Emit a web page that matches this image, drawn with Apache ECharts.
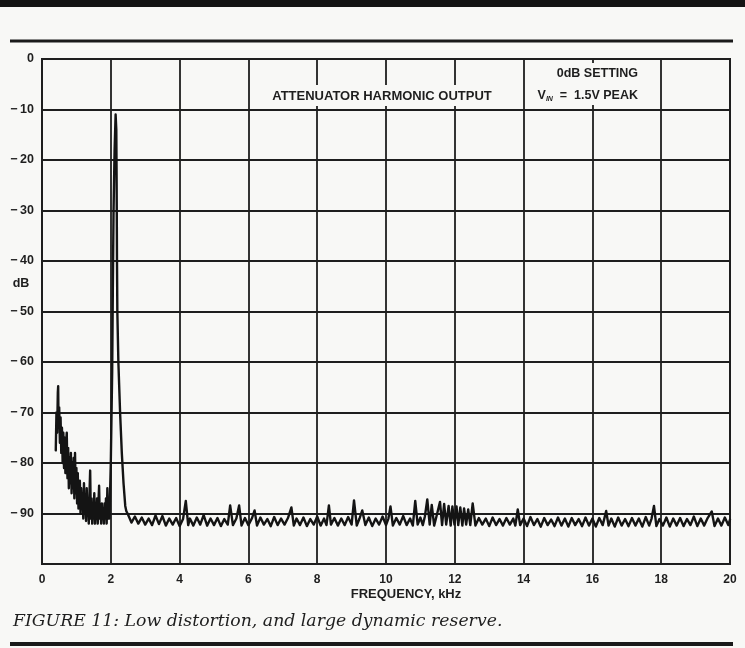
<!DOCTYPE html>
<html>
<head>
<meta charset="utf-8">
<script src="https://cdn.jsdelivr.net/npm/echarts@6/dist/echarts.min.js"></script>
<style>
html,body{margin:0;padding:0;background:#f8f8f6;}
#c{width:745px;height:648px;}
</style>
</head>
<body>
<div id="c"></div>
<script>
// ---- data (frequency kHz, level dB) ----
var xTicks = [0, 2, 4, 6, 8, 10, 12, 14, 16, 18, 20];
var yTickLabels = {'0':'0','-10':'\u2212\u200910','-20':'\u2212\u200920','-30':'\u2212\u200930','-40':'\u2212\u200940',
  '-50':'\u2212\u200950','-60':'\u2212\u200960','-70':'\u2212\u200970','-80':'\u2212\u200980','-90':'\u2212\u200990','-100':''};

var lowBand = [
 [0.40,-77.5],[0.42,-70],[0.44,-74],[0.46,-66],[0.47,-64.8],[0.48,-72],[0.50,-69],[0.52,-76],[0.54,-71],
 [0.56,-78],[0.58,-73],[0.60,-80],[0.62,-74],[0.64,-81],[0.66,-75],[0.68,-82],[0.70,-76],[0.72,-74],
 [0.74,-83],[0.76,-77],[0.78,-85],[0.80,-79],[0.82,-84],[0.84,-78],[0.86,-86],[0.88,-80],[0.90,-85],
 [0.92,-79],[0.94,-87],[0.96,-78],[0.98,-86],[1.00,-81],[1.02,-88],[1.04,-82],[1.06,-89],[1.08,-84],
 [1.10,-83.5],[1.12,-90],[1.14,-85],[1.16,-89],[1.18,-86],[1.20,-91],[1.22,-84],[1.24,-90],[1.26,-87],
 [1.28,-91.5],[1.30,-85],[1.32,-90],[1.34,-88],[1.36,-92],[1.38,-86],[1.40,-81.5],[1.42,-91],[1.44,-87],
 [1.46,-92],[1.48,-88],[1.50,-91],[1.52,-86],[1.54,-92],[1.56,-89],[1.58,-91],[1.60,-87],[1.62,-92],
 [1.64,-88],[1.66,-84.5],[1.68,-91],[1.70,-89],[1.72,-92],[1.74,-88],[1.76,-91],[1.78,-89],[1.80,-92],
 [1.82,-88],[1.84,-91],[1.86,-87],[1.88,-92],[1.90,-85],[1.92,-91],[1.94,-89],[1.96,-91]
];

var mainPeak = [
 [2.00,-80],[2.04,-62],[2.06,-45],[2.08,-30],[2.11,-18],[2.14,-11],[2.16,-14],[2.17,-25],[2.18,-40],
 [2.19,-50],[2.22,-60],[2.27,-70],[2.32,-78],[2.37,-84],[2.42,-88.5],[2.45,-89.5]
];

var noiseFloor = [
 [2.5,-90.2],[2.6,-91.8],[2.7,-90.6],[2.8,-92.0],[2.9,-90.8],[3.0,-92.2],[3.1,-91.0],[3.2,-92.3],[3.3,-90.4],
 [3.4,-92.1],[3.5,-90.5],[3.6,-92.4],[3.7,-91.0],[3.8,-92.2],[3.9,-90.9],[4.0,-92.5],[4.1,-91.1],[4.18,-87.5],
 [4.25,-92.3],[4.3,-91.0],[4.4,-92.4],[4.5,-90.8],[4.6,-92.2],[4.7,-90.3],[4.8,-92.4],[4.9,-91.0],[5.0,-92.3],
 [5.1,-90.9],[5.2,-92.5],[5.3,-91.1],[5.4,-92.2],[5.47,-88.4],[5.55,-92.3],[5.65,-91.0],[5.73,-88.4],[5.8,-92.4],
 [5.9,-90.9],[6.0,-92.3],[6.1,-91.0],[6.18,-89.4],[6.25,-92.4],[6.35,-90.8],[6.45,-92.2],[6.55,-91.1],[6.65,-92.5],
 [6.75,-90.7],[6.85,-92.3],[6.95,-91.0],[7.05,-92.2],[7.15,-90.9],[7.25,-88.8],[7.32,-92.4],[7.4,-91.0],[7.5,-92.3],
 [7.6,-90.8],[7.7,-92.5],[7.8,-91.1],[7.9,-92.2],[8.0,-90.6],[8.1,-92.4],[8.2,-91.0],[8.27,-92.3],[8.34,-88.4],
 [8.4,-92.2],[8.5,-90.9],[8.6,-92.4],[8.7,-91.0],[8.8,-92.3],[8.9,-90.7],[9.0,-92.2],[9.07,-87.4],[9.15,-92.4],
 [9.23,-91.0],[9.31,-89.4],[9.4,-92.3],[9.5,-90.8],[9.6,-92.5],[9.7,-91.0],[9.8,-92.2],[9.9,-90.6],[10.0,-92.3],
 [10.07,-91.0],[10.13,-88.6],[10.2,-92.4],[10.3,-90.9],[10.4,-92.2],[10.5,-90.5],[10.6,-92.3],[10.7,-91.0],
 [10.78,-92.4],[10.85,-87.5],[10.92,-92.2],[11.0,-90.8],[11.07,-92.3],[11.13,-90.6],[11.20,-87.2],[11.27,-92.2],
 [11.33,-88.3],[11.4,-92.4],[11.47,-90.5],[11.57,-87.7],[11.63,-92.3],[11.69,-88.1],[11.75,-92.2],[11.82,-88.5],
 [11.88,-92.4],[11.93,-88.6],[11.99,-92.2],[12.05,-88.6],[12.1,-92.3],[12.16,-88.8],[12.22,-92.4],[12.27,-89.0],
 [12.33,-92.2],[12.39,-89.2],[12.45,-92.3],[12.52,-88.0],[12.6,-92.4],[12.7,-90.9],[12.8,-92.2],[12.9,-91.0],
 [13.0,-92.5],[13.1,-90.8],[13.2,-92.3],[13.3,-91.1],[13.4,-92.4],[13.5,-90.9],[13.6,-92.2],[13.7,-91.0],
 [13.76,-92.4],[13.83,-89.2],[13.9,-92.3],[14.0,-91.0],[14.1,-92.5],[14.2,-90.7],[14.3,-92.3],[14.4,-91.1],
 [14.5,-92.6],[14.6,-90.9],[14.7,-92.3],[14.8,-91.2],[14.9,-92.5],[15.0,-90.8],[15.1,-92.4],[15.2,-91.0],
 [15.3,-92.6],[15.4,-90.9],[15.5,-92.3],[15.6,-91.1],[15.7,-92.5],[15.8,-90.8],[15.9,-92.4],[16.0,-91.0],
 [16.1,-92.6],[16.2,-90.9],[16.3,-92.3],[16.40,-89.5],[16.47,-92.4],[16.55,-91.0],[16.65,-92.6],[16.75,-90.8],
 [16.85,-92.4],[16.95,-91.1],[17.05,-92.5],[17.15,-90.9],[17.25,-92.4],[17.35,-91.0],[17.45,-92.6],[17.55,-90.7],
 [17.65,-92.4],[17.72,-91.0],[17.79,-88.5],[17.86,-92.5],[17.95,-91.1],[18.05,-92.4],[18.15,-90.8],[18.25,-92.6],
 [18.35,-91.0],[18.45,-92.4],[18.55,-90.9],[18.65,-92.5],[18.75,-91.1],[18.85,-92.3],[18.95,-90.6],[19.05,-92.5],
 [19.15,-91.0],[19.25,-92.4],[19.35,-90.9],[19.47,-89.6],[19.55,-92.5],[19.65,-91.0],[19.75,-92.4],[19.85,-90.8],
 [19.95,-92.3],[20.0,-91.2]
];

var chartTitle = 'ATTENUATOR HARMONIC OUTPUT';
var settingLine = '0dB SETTING';
var xName = 'FREQUENCY, kHz';
var yName = 'dB';
var caption = 'FIGURE 11: Low distortion, and large dynamic reserve.';

// ---- chart ----
var INK = '#1e1e1e';
var PAPER = '#f8f8f6';
var SANS = '"Liberation Sans", Arial, sans-serif';
var chart = echarts.init(document.getElementById('c'), null, {renderer: 'canvas'});
chart.setOption({
  backgroundColor: PAPER,
  animation: false,
  grid: {left: 42, right: 15, top: 59, bottom: 84, show: true, borderColor: INK, borderWidth: 2, containLabel: false},
  xAxis: {
    type: 'value', min: 0, max: 20, interval: 2,
    axisLine: {show: true, lineStyle: {color: INK, width: 2}},
    axisTick: {show: false},
    splitLine: {show: true, lineStyle: {color: INK, width: 1.8}},
    axisLabel: {color: INK, fontSize: 12, fontWeight: 'bold', fontFamily: SANS, margin: 10,
      formatter: function (v) { return xTicks.indexOf(v) >= 0 ? String(v) : ''; }}
  },
  yAxis: {
    type: 'value', min: -100, max: 0, interval: 10,
    axisLine: {show: true, lineStyle: {color: INK, width: 2}},
    axisTick: {show: false},
    splitLine: {show: true, lineStyle: {color: INK, width: 1.8}},
    axisLabel: {color: INK, fontSize: 12.5, fontWeight: 'bold', fontFamily: SANS, margin: 8,
      formatter: function (v) { var k = String(Math.round(v)); return yTickLabels[k] !== undefined ? yTickLabels[k] : ''; }}
  },
  series: [{
    type: 'line',
    data: lowBand.concat(mainPeak, noiseFloor),
    showSymbol: false, symbol: 'none',
    lineStyle: {color: '#141414', width: 2.4, join: 'round', cap: 'round'},
    z: 3
  }],
  graphic: [
    {type: 'rect', z: 50, shape: {x: 0, y: 0, width: 745, height: 7}, style: {fill: '#141414'}},
    {type: 'rect', z: 50, shape: {x: 10, y: 39.5, width: 723, height: 3}, style: {fill: '#1a1a1a'}},
    {type: 'rect', z: 50, shape: {x: 10, y: 642, width: 723, height: 4}, style: {fill: '#1a1a1a'}},
    {type: 'rect', z: 50, shape: {x: 266, y: 85, width: 232, height: 21}, style: {fill: PAPER}},
    {type: 'rect', z: 50, shape: {x: 530, y: 63, width: 115, height: 42}, style: {fill: PAPER}},
    {type: 'text', z: 60, x: 382, y: 96, style: {text: chartTitle, fill: INK, font: 'bold 13px ' + SANS, align: 'center', verticalAlign: 'middle'}},
    {type: 'text', z: 60, x: 638, y: 74, style: {text: settingLine, fill: INK, font: 'bold 12.5px ' + SANS, align: 'right', verticalAlign: 'middle'}},
    {type: 'text', z: 60, x: 638, y: 96, style: {
      text: '{v|V}{s|IN}{n|  =  1.5V PEAK}', align: 'right', verticalAlign: 'middle',
      rich: {
        v: {fill: INK, font: 'bold 12.5px ' + SANS},
        s: {fill: INK, font: 'italic bold 7px ' + SANS, padding: [6, 0, 0, 0]},
        n: {fill: INK, font: 'bold 12.5px ' + SANS}
      }}},
    {type: 'text', z: 60, x: 21, y: 284, style: {text: yName, fill: INK, font: 'bold 12.5px ' + SANS, align: 'center', verticalAlign: 'middle'}},
    {type: 'text', z: 60, x: 406, y: 594, style: {text: xName, fill: INK, font: 'bold 13px ' + SANS, align: 'center', verticalAlign: 'middle'}},
    {type: 'text', z: 60, x: 13, y: 622, style: {text: caption, fill: '#1e1e1e', font: 'italic 17.3px "DejaVu Serif", serif', align: 'left', verticalAlign: 'middle'}}
  ]
});
</script>
</body>
</html>
